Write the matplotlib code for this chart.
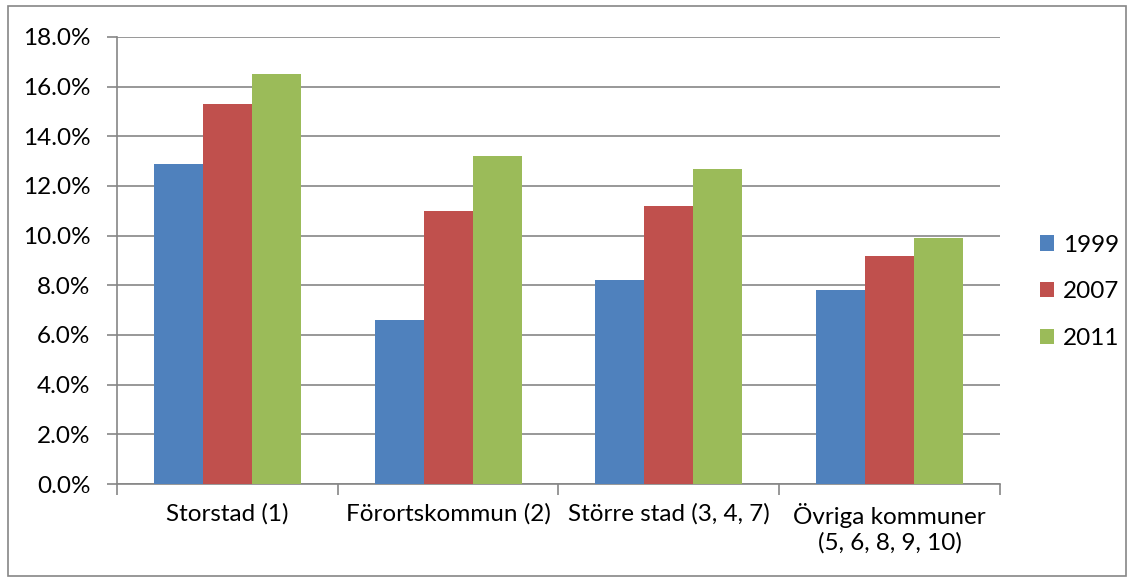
import numpy as np
import matplotlib
matplotlib.use("Agg")
import matplotlib.pyplot as plt
from matplotlib.patches import Rectangle
from matplotlib.ticker import FuncFormatter, MultipleLocator

plt.rcParams["font.family"] = ["Lato", "DejaVu Sans"]

categories = ["Storstad (1)", "Förortskommun (2)", "Större stad (3, 4, 7)",
              "Övriga kommuner\n(5, 6, 8, 9, 10)"]
years = ["1999", "2007", "2011"]
v1999 = [12.9, 6.6, 8.2, 7.8]
v2007 = [15.3, 11.0, 11.2, 9.2]
v2011 = [16.5, 13.2, 12.7, 9.9]
colors = ["#4f81bd", "#c0504d", "#9bbb59"]

fs = 17.5

fig = plt.figure(figsize=(11.34, 5.78), dpi=100)
ax = fig.add_axes([0.103, 0.1626, 0.779, 0.7735])

x = np.arange(len(categories))
w = 0.222
for i, (vals, yr) in enumerate(zip([v1999, v2007, v2011], years)):
    ax.bar(x + (i - 1) * w, vals, width=w, color=colors[i], label=yr, zorder=3)

ax.set_xlim(-0.5, len(categories) - 0.5)
ax.set_ylim(0, 18)
ax.yaxis.set_major_locator(MultipleLocator(2))
ax.yaxis.set_major_formatter(FuncFormatter(lambda v, p: f"{v:.1f}%"))
ax.grid(axis="y", color="#868686", linewidth=1.2, zorder=0)

ax.set_xticks(np.arange(len(categories) + 1) - 0.5)
ax.set_xticklabels([])
ax.set_xticks(x, minor=True)
ax.set_xticklabels(categories, minor=True, fontsize=fs, linespacing=1.22)
ax.tick_params(axis="x", which="minor", length=0, pad=14)
ax.tick_params(axis="x", which="major", length=8, color="#868686", width=1.2)
ax.tick_params(axis="y", length=7, color="#868686", width=1.2, labelsize=fs, pad=12)

for s in ["top", "right"]:
    ax.spines[s].set_visible(False)
for s in ["left", "bottom"]:
    ax.spines[s].set_color("#868686")
    ax.spines[s].set_linewidth(1.2)

leg = ax.legend(loc="center left", bbox_to_anchor=(1.02, 0.43), frameon=False,
                fontsize=fs, handlelength=0.6, handleheight=0.6,
                handletextpad=0.35, labelspacing=1.05)

fig.patches.append(Rectangle((0.007, 0.003), 0.986, 0.987, transform=fig.transFigure,
                             fill=False, edgecolor="#868686", linewidth=1.2))

fig.savefig("out.png", dpi=100)
